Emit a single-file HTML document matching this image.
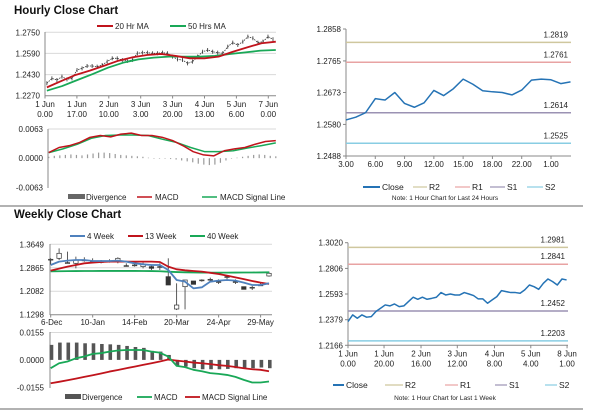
<!DOCTYPE html>
<html><head><meta charset="utf-8"><style>
html,body{margin:0;padding:0;background:#fff;}
svg{display:block;font-family:"Liberation Sans",Arial,sans-serif;}
</style></head><body>
<svg id="c" width="600" height="413" viewBox="0 0 600 413" xmlns="http://www.w3.org/2000/svg"></svg>
<script>
// ---------- DATA ----------
const hourlyTickLabels1 = ["1 Jun","1 Jun","2 Jun","3 Jun","3 Jun","4 Jun","5 Jun","7 Jun"];
const hourlyTickLabels2 = ["0.00","17.00","10.00","3.00","20.00","13.00","6.00","0.00"];
const hourlyTickIdx = [0,17,34,51,68,85,102,119];
const hourlyClose = [1.2364,1.2401,1.2389,1.2414,1.2394,1.2401,1.2465,1.2477,1.2495,1.2495,1.2490,1.2502,1.2528,1.2553,1.2553,1.2540,1.2533,1.2540,1.2591,1.2596,1.2596,1.2591,1.2591,1.2596,1.2591,1.2566,1.2545,1.2540,1.2515,1.2528,1.2566,1.2603,1.2616,1.2603,1.2596,1.2591,1.2641,1.2672,1.2654,1.2679,1.2717,1.2705,1.2672,1.2679,1.2717,1.2697];
const hourlyMA20 = [1.2333,1.2381,1.2427,1.2460,1.2497,1.2535,1.2561,1.2578,1.2586,1.2571,1.2553,1.2553,1.2566,1.2603,1.2636,1.2667,1.2679];
const hourlyMA50 = [1.2308,1.2343,1.2389,1.2434,1.2482,1.2520,1.2545,1.2558,1.2566,1.2566,1.2566,1.2571,1.2586,1.2598,1.2611,1.2616];
const hourlyYTicks = [1.2750,1.2590,1.2430,1.2270];
const hourlyMACD = [0.0012,0.0023,0.0027,0.0034,0.0045,0.0049,0.0046,0.0052,0.0054,0.0049,0.0049,0.0045,0.0038,0.0027,0.0014,0.0007,0.0005,0.0016,0.0020,0.0023,0.0030,0.0036,0.0038];
const hourlySignal = [0.0012,0.0020,0.0030,0.0043,0.0049,0.0050,0.0050,0.0049,0.0041,0.0034,0.0023,0.0014,0.0014,0.0016,0.0022,0.0027,0.0033];
const hourlyDiv = [0.0003,0.0005,0.0006,0.0007,0.0008,0.0007,0.0006,0.0008,0.0010,0.0012,0.0012,0.0011,0.0009,0.0007,0.0006,0.0005,0.0004,0.0003,0.0001,0,0,-0.0001,-0.0002,-0.0003,-0.0005,-0.0007,-0.0009,-0.0012,-0.0014,-0.0015,-0.0014,-0.0010,-0.0005,-0.0001,0.0001,0.0003,0.0005,0.0007,0.0008,0.0007,0.0005,0.0004];
const hourlyMacdTicks = [0.0063,0.0000,-0.0063];

const dayClose = [1.2593,1.2601,1.2614,1.2655,1.2651,1.2673,1.2641,1.2630,1.2643,1.2679,1.2664,1.2684,1.2712,1.2697,1.2678,1.2675,1.2673,1.2666,1.2680,1.2709,1.2712,1.2710,1.2699,1.2704];
const dayTickLabels = ["3.00","6.00","9.00","12.00","15.00","18.00","22.00","1.00"];
const dayTickIdx = [0,3,6,9,12,15,18,21];
const dayYTicks = [1.2858,1.2765,1.2673,1.2580,1.2488];
const dayLevels = [1.2819,1.2761,1.2614,1.2525];

const wkOpen  = [1.3125,1.3181,1.3036,1.3014,1.3125,1.3092,1.3070,1.3092,1.3070,1.2936,1.2958,1.2903,1.2903,1.2903,1.2568,1.1488,1.2234,1.2424,1.2457,1.2479,1.2401,1.2568,1.2401,1.2234,1.2212,1.2290,1.2591];
const wkClose = [1.3148,1.3348,1.3036,1.3125,1.3125,1.3092,1.3070,1.3092,1.3181,1.2936,1.2958,1.2981,1.2847,1.2903,1.2290,1.1621,1.2457,1.2312,1.2457,1.2479,1.2401,1.2568,1.2401,1.2145,1.2212,1.2290,1.2680];
const wkHigh  = [1.3181,1.3515,1.3404,1.3237,1.3215,1.3181,1.3125,1.3148,1.3215,1.3014,1.3014,1.3036,1.2958,1.3014,1.3181,1.2346,1.2457,1.2424,1.2479,1.2535,1.2479,1.2624,1.2479,1.2234,1.2256,1.2346,1.2736];
const wkLow   = [1.2958,1.3125,1.3014,1.2847,1.3070,1.3014,1.3014,1.3036,1.3014,1.2903,1.2903,1.2847,1.2791,1.2791,1.2290,1.1454,1.1477,1.2312,1.2401,1.2401,1.2323,1.2479,1.2323,1.2145,1.2123,1.2256,1.2568];
const wkMA4  = [1.2958,1.3070,1.3103,1.3125,1.3125,1.3092,1.3092,1.3092,1.3103,1.3070,1.3014,1.2981,1.2958,1.2958,1.2791,1.2457,1.2401,1.2178,1.2212,1.2401,1.2435,1.2457,1.2435,1.2368,1.2290,1.2290,1.2346];
const wkMA13 = [1.2769,1.2836,1.2903,1.2958,1.3014,1.3036,1.3058,1.3070,1.3070,1.3070,1.3070,1.3070,1.3070,1.3058,1.2903,1.2813,1.2780,1.2758,1.2736,1.2697,1.2658,1.2602,1.2546,1.2485,1.2424,1.2368,1.2323];
const wkMA40 = [1.2747,1.2750,1.2752,1.2755,1.2757,1.2758,1.2760,1.2760,1.2760,1.2760,1.2760,1.2758,1.2755,1.2750,1.2735,1.2722,1.2713,1.2708,1.2705,1.2702,1.2702,1.2702,1.2705,1.2707,1.2708,1.2710,1.2713];
const wkTickLabels = ["6-Dec","10-Jan","14-Feb","20-Mar","24-Apr","29-May"];
const wkTickIdx = [0,5,10,15,20,25];
const wkYTicks = [1.3649,1.2865,1.2082,1.1298];
const wkDiv = [0.0085,0.0098,0.0098,0.0098,0.0094,0.0094,0.0090,0.0088,0.0085,0.0079,0.0073,0.0068,0.0051,0.0047,0.0028,-0.0034,-0.0038,-0.0047,-0.0053,-0.0053,-0.0053,-0.0051,-0.0047,-0.0049,-0.0047,-0.0043,-0.0047];
const wkMACD = [-0.0047,-0.0019,-0.0009,0.0009,0.0019,0.0034,0.0038,0.0047,0.0053,0.0056,0.0056,0.0056,0.0047,0.0041,0.0019,-0.0034,-0.0041,-0.0056,-0.0064,-0.0075,-0.0079,-0.0085,-0.0096,-0.0113,-0.0128,-0.0128,-0.0122];
const wkSignal = [-0.0132,-0.0124,-0.0115,-0.0106,-0.0096,-0.0087,-0.0077,-0.0066,-0.0057,-0.0047,-0.0038,-0.0028,-0.0019,-0.0009,0.0002,-0.0004,-0.0009,-0.0015,-0.0019,-0.0024,-0.0030,-0.0034,-0.0040,-0.0047,-0.0053,-0.0056,-0.0064];
const wkMacdTicks = [0.0155,0.0000,-0.0155];

const weekClose = [1.2364,1.2419,1.2391,1.2419,1.2400,1.2405,1.2447,1.2474,1.2502,1.2494,1.2510,1.2488,1.2494,1.2530,1.2566,1.2549,1.2566,1.2549,1.2557,1.2566,1.2605,1.2585,1.2593,1.2585,1.2585,1.2605,1.2593,1.2580,1.2552,1.2552,1.2516,1.2544,1.2571,1.2621,1.2613,1.2605,1.2605,1.2599,1.2627,1.2668,1.2654,1.2632,1.2682,1.2718,1.2696,1.2668,1.2718,1.2710];
const weekTick1 = ["1 Jun","1 Jun","2 Jun","3 Jun","4 Jun","5 Jun","8 Jun"];
const weekTick2 = ["0.00","20.00","16.00","12.00","8.00","4.00","1.00"];
const weekTickIdx = [0,7.75,15.7,23.5,31.5,39.3,47.1];
const weekYTicks = [1.3020,1.2806,1.2593,1.2379,1.2166];
const weekLevels = [1.2981,1.2841,1.2452,1.2203];

// ---------- HELPERS ----------
const NS="http://www.w3.org/2000/svg";
const svg=document.getElementById('c');
function mk(tag,a){const e=document.createElementNS(NS,tag);for(const k in a)e.setAttribute(k,a[k]);svg.appendChild(e);return e;}
function lin(d0,d1,r0,r1){return v=>r0+(v-d0)*(r1-r0)/(d1-d0);}
function txt(x,y,s,anchor,size,weight,fill){const e=mk('text',{x:x,y:y,'text-anchor':anchor||'start','font-size':size||8,'font-weight':weight||'normal',fill:fill||'#222'});e.textContent=s;return e;}
function line(x1,y1,x2,y2,c,w){return mk('line',{x1:x1,y1:y1,x2:x2,y2:y2,stroke:c,'stroke-width':w||1});}
function poly(vals,xf,yf,c,w){return mk('polyline',{points:vals.map((v,i)=>xf(i).toFixed(2)+','+yf(v).toFixed(2)).join(' '),fill:'none',stroke:c,'stroke-width':w||1.5,'stroke-linejoin':'round'});}
const RED='#c0141c',GRN='#19a857',BLU='#4f81bd',CLS='#2573b5';
const LVC=['#cfc79e','#e8a3a3','#9b92b3','#88cde3'];
let e;

// separators
e=line(0,206,583,206,'#999',1.5);


e=line(0,409,583,409,'#999',1.5);



// ===== HOURLY PRICE =====
e=txt(14,14,'Hourly Close Chart','start',11.5,'bold','#111');


const hX=lin(0,119,45,268.3), hY=lin(1.2270,1.2750,95.7,32.3);
hourlyYTicks.forEach((t,i)=>{
  e=line(45,hY(t),276,hY(t),i===3?'#888':'#d9d9d9',1);
  
  
  e=txt(40,hY(t)+3,t.toFixed(4),'end',8);
  
  
});
e=line(45,32,45,96,'#888',1);


hourlyTickIdx.forEach((t,i)=>{
  e=line(hX(t),95.7,hX(t),98.5,'#888',1);
  
  
  e=txt(hX(t),107,hourlyTickLabels1[i],'middle',8);
  
  
  e=txt(hX(t),117,hourlyTickLabels2[i],'middle',8);
  
  
});
const hcX=i=>hX(1+i*120.5/(hourlyClose.length-1));
hourlyClose.forEach((v,i)=>{
  e=line(hcX(i),hY(v)-2,hcX(i),hY(v)+2,'#333',0.8);
  
  
});
e=mk('polyline',{points:hourlyClose.map((v,i)=>hcX(i).toFixed(2)+','+hY(v).toFixed(2)).join(' '),fill:'none',stroke:'#333','stroke-width':0.8,'stroke-dasharray':'1.5,1'});


e=poly(hourlyMA50,i=>hX(1+i*122/(hourlyMA50.length-1)),hY,GRN,1.8);


e=poly(hourlyMA20,i=>hX(1+i*122/(hourlyMA20.length-1)),hY,RED,1.8);


e=line(97,26,113,26,RED,2);


e=txt(115,29,'20 Hr MA','start',8);


e=line(170,26,186,26,GRN,2);


e=txt(188,29,'50 Hrs MA','start',8);



// ===== HOURLY MACD =====
const hmY=lin(-0.0063,0.0063,187.3,129);
hourlyMacdTicks.forEach((t,i)=>{
  e=txt(43,hmY(t)+3,t.toFixed(4),'end',8);
  
  
});
e=line(48,129,276,129,'#d9d9d9',1);


e=line(48,129,48,188,'#888',1);


hourlyDiv.forEach((v,i)=>{
  const x=hX(2+i*121/(hourlyDiv.length-1));
  e=mk('rect',{x:x-0.6,y:Math.min(hmY(0),hmY(v)),width:1.2,height:Math.max(0.5,Math.abs(hmY(v)-hmY(0))),fill:'#9a9a9a'});
  
  
});
e=poly(hourlySignal,i=>hX(2+i*121/(hourlySignal.length-1)),hmY,GRN,1.5);


e=poly(hourlyMACD,i=>hX(2+i*121/(hourlyMACD.length-1)),hmY,RED,1.5);


e=mk('rect',{x:68,y:194,width:17,height:5,fill:'#666'});


e=txt(86,200,'Divergence','start',8);


e=line(137,197,152,197,RED,1.5);


e=txt(155,200,'MACD','start',8);


e=line(202,197,217,197,GRN,1.5);


e=txt(220,200,'MACD Signal Line','start',8);



// ===== LEVEL CHART helper =====
function levelChart(prefix,series,yTicks,levels,x0,x1,y0,y1,dom0,dom1,tickIdx,tl1,tl2,nCat){
  const Y=lin(yTicks[yTicks.length-1],yTicks[0],y1,y0);
  const X=lin(0,nCat,x0,x1);
  e=line(x0,y0,x0,y1,'#888',1);
  
  
  e=line(x0,y1,x1,y1,'#888',1);
  
  
  yTicks.forEach(t=>{
    e=line(x0-3,Y(t),x0,Y(t),'#888',1);
    
    
    e=txt(x0-5,Y(t)+3,t.toFixed(4),'end',8);
    
    
  });
  tickIdx.forEach((t,i)=>{
    e=line(X(t),y1,X(t),y1+3,'#888',1);
    
    
    e=txt(X(t),y1+11,tl1[i],'middle',8);
    
    
    if(tl2){
      e=txt(X(t),y1+21,tl2[i],'middle',8);
      
      
    }
  });
  const names=['r2','r1','s1','s2'];
  levels.forEach((v,i)=>{
    e=line(x0,Y(v),x1,Y(v),LVC[i],1.5);
    
    
    e=txt(x1-3,Y(v)-5,v.toFixed(4),'end',8);
    
    
  });
  e=poly(series,i=>X(i),Y,CLS,1.5);
  
  
}
levelChart('day-chart',dayClose,dayYTicks,dayLevels,346,571,29,156,0,0,dayTickIdx,dayTickLabels,null,dayClose.length-1+0.05);
levelChart('week-chart',weekClose,weekYTicks,weekLevels,348,568,242.7,345.3,0,0,weekTickIdx,weekTick1,weekTick2,weekClose.length-1+0.3);

function levelLegend(prefix,y,pos,names){
  const cols=[CLS,LVC[0],LVC[1],LVC[2],LVC[3]];
  pos.forEach((p,i)=>{
    e=line(p[0],y,p[1],y,cols[i],i===0?2:1.2);
    
    
    e=txt(p[1]+2,y+3,names[i],'start',8.5);
    
    
  });
}
levelLegend('day-chart',187,[[363,380],[413,427],[455,470],[490,505],[527,543]],['Close','R2','R1','S1','S2']);
e=txt(445,200,'Note: 1 Hour Chart for Last 24 Hours','middle',6.5);


levelLegend('week-chart',385,[[333,344],[385,403],[445,458],[495,507],[545,557]],['Close','R2','R1','S1','S2']);
e=txt(445,400,'Note: 1 Hour Chart for Last 1 Week','middle',6.5);



// ===== WEEKLY PRICE =====
e=txt(14,218,'Weekly Close Chart','start',11.5,'bold','#111');


const wX=lin(0,26,50.7,269), wY=lin(1.1298,1.3649,314.7,244.3);
wkYTicks.forEach((t,i)=>{
  e=line(50,wY(t),272,wY(t),i===3?'#888':'#d9d9d9',1);
  
  
  e=txt(44,wY(t)+3,t.toFixed(4),'end',8);
  
  
});
e=line(50,244,50,315,'#888',1);


wkTickIdx.forEach((t,i)=>{
  e=line(wX(t),314.7,wX(t),317.5,'#888',1);
  
  
  e=txt(wX(t)+(i===0?1:0),325,wkTickLabels[i],'middle',8);
  
  
});
wkOpen.forEach((o,i)=>{
  const c=wkClose[i],x=wX(i);
  e=line(x,wY(wkHigh[i]),x,wY(wkLow[i]),'#333',0.8);
  
  
  const top=wY(Math.max(o,c)),bot=wY(Math.min(o,c));
  e=mk('rect',{x:x-2.2,y:top,width:4.4,height:Math.max(0.8,bot-top),fill:c>=o?'#fff':'#333',stroke:'#333','stroke-width':0.7});
  
  
});
e=poly(wkMA40,wX,wY,GRN,1.8);


e=poly(wkMA13,wX,wY,RED,1.8);


e=poly(wkMA4,wX,wY,BLU,1.8);


e=line(70,236,85,236,BLU,2);


e=txt(87,239,'4 Week','start',8);


e=line(128,236,143,236,RED,2);


e=txt(145,239,'13 Week','start',8);


e=line(190,236,205,236,GRN,2);


e=txt(207,239,'40 Week','start',8);



// ===== WEEKLY MACD =====
const wmY=lin(-0.0155,0.0155,387.3,332.5);
wkMacdTicks.forEach(t=>{
  e=txt(44,wmY(t)+3,t.toFixed(4),'end',8);
  
  
});
e=line(50,332.5,272,332.5,'#d9d9d9',1);


e=line(50,332,50,388,'#888',1);


wkDiv.forEach((v,i)=>{
  e=mk('rect',{x:wX(i)-1.8+0.8,y:Math.min(wmY(0),wmY(v)),width:3.6,height:Math.abs(wmY(v)-wmY(0)),fill:'#555'});
  
  
});
e=poly(wkSignal,wX,wmY,RED,1.8);


e=poly(wkMACD,wX,wmY,GRN,1.8);


e=mk('rect',{x:65,y:394,width:16,height:5,fill:'#555'});


e=txt(82,400,'Divergence','start',8);


e=line(137,397,152,397,GRN,1.8);


e=txt(154,400,'MACD','start',8);


e=line(185,397,200,397,RED,1.8);


e=txt(202,400,'MACD Signal Line','start',8);


</script>
</body></html>
